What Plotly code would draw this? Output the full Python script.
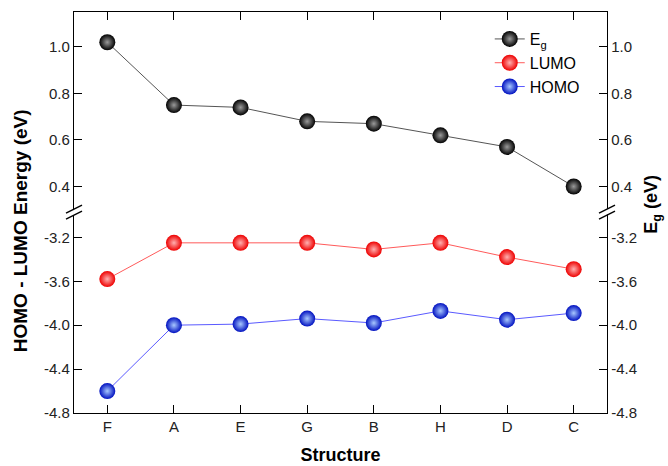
import plotly.graph_objects as go

structures = ["F", "A", "E", "G", "B", "H", "D", "C"]
eg = [1.02, 0.75, 0.74, 0.68, 0.67, 0.62, 0.57, 0.40]
lumo = [-3.58, -3.25, -3.25, -3.25, -3.31, -3.25, -3.38, -3.49]
homo = [-4.60, -4.00, -3.99, -3.94, -3.98, -3.87, -3.95, -3.89]

upper_ticks = [0.4, 0.6, 0.8, 1.0]
lower_ticks = [-3.2, -3.6, -4.0, -4.4, -4.8]
upper_range = [0.29, 1.15]
lower_range = [-4.8, -2.97]

FONT = "Liberation Sans, Arial, sans-serif"

def sphere(color, light):
    return dict(size=16, color=color, line=dict(width=0),
                gradient=dict(type="radial", color=light))

fig = go.Figure()
fig.add_trace(go.Scatter(x=structures, y=eg, name="E<sub>g</sub>", mode="lines+markers",
                         xaxis="x2", yaxis="y",
                         line=dict(color="#555555", width=1),
                         marker=sphere("#000000", "#9a9a9a")))
fig.add_trace(go.Scatter(x=structures, y=lumo, name="LUMO", mode="lines+markers",
                         xaxis="x", yaxis="y2",
                         line=dict(color="#ff5a5a", width=1),
                         marker=sphere("#ee0000", "#ffb0b0")))
fig.add_trace(go.Scatter(x=structures, y=homo, name="HOMO", mode="lines+markers",
                         xaxis="x", yaxis="y2",
                         line=dict(color="#5a5aff", width=1),
                         marker=sphere("#0010c0", "#a8c8ff")))

axis_common = dict(showline=True, linecolor="black", linewidth=1.3, ticks="inside",
                   ticklen=8, tickwidth=1.3, tickcolor="black", showgrid=False,
                   zeroline=False, automargin=False,
                   tickfont=dict(family=FONT, size=15, color="#222"))

fig.update_layout(
    width=668, height=466,
    margin=dict(l=74, r=61, t=12, b=53),
    paper_bgcolor="white", plot_bgcolor="white",
    font=dict(family=FONT, color="black"),
    xaxis=dict(**axis_common, domain=[0, 1], anchor="y2", range=[-0.5, 7.5],
               type="category", categoryorder="array", categoryarray=structures,
               title=dict(text="<b>Structure</b>", font=dict(size=18, family=FONT), standoff=14)),
    xaxis2=dict(**axis_common, domain=[0, 1], anchor="y", side="top", matches="x",
                range=[-0.5, 7.5], type="category", categoryorder="array",
                categoryarray=structures, showticklabels=False),
    yaxis=dict(**axis_common, domain=[0.501, 1], anchor="x2", range=upper_range,
               tickvals=upper_ticks, ticktext=[f"{v:.1f}" for v in upper_ticks]),
    yaxis2=dict(**axis_common, domain=[0, 0.501], anchor="x", range=lower_range,
                tickvals=lower_ticks, ticktext=[f"{v:.1f}" for v in lower_ticks]),
    yaxis3=dict(**axis_common, overlaying="y", side="right", anchor="x2", range=upper_range,
                tickvals=upper_ticks, ticktext=[f"{v:.1f}" for v in upper_ticks]),
    yaxis4=dict(**axis_common, overlaying="y2", side="right", anchor="x", range=lower_range,
                tickvals=lower_ticks, ticktext=[f"{v:.1f}" for v in lower_ticks]),
    legend=dict(x=0.78, y=0.975, xanchor="left", yanchor="top", bgcolor="rgba(0,0,0,0)",
                font=dict(family=FONT, size=16), tracegroupgap=0, itemwidth=30),
    showlegend=True,
)

# invisible traces to activate right axes
fig.add_trace(go.Scatter(x=[structures[0]], y=[eg[0]], xaxis="x2", yaxis="y3",
                         mode="markers", marker=dict(opacity=0), showlegend=False, hoverinfo="skip"))
fig.add_trace(go.Scatter(x=[structures[0]], y=[lumo[0]], xaxis="x", yaxis="y4",
                         mode="markers", marker=dict(opacity=0), showlegend=False, hoverinfo="skip"))

# axis break marks
for xp in [0, 1]:
    fig.add_shape(type="line", xref="paper", yref="paper", xsizemode="pixel", ysizemode="pixel",
                  xanchor=xp, yanchor=0.501, x0=-2, x1=2, y0=-2, y1=2,
                  line=dict(color="white", width=4))
    for dy in [-3, 3]:
        fig.add_shape(type="line", xref="paper", yref="paper", xsizemode="pixel", ysizemode="pixel",
                      xanchor=xp, yanchor=0.501, x0=-8, x1=8, y0=dy - 4, y1=dy + 4,
                      line=dict(color="black", width=1.3))

fig.add_annotation(text="<b>HOMO - LUMO Energy (eV)</b>", textangle=-90, xref="paper", yref="paper",
                   x=-0.1, y=0.455, xanchor="center", yanchor="middle", showarrow=False,
                   font=dict(family=FONT, size=19))
fig.add_annotation(text="<b>E<sub>g</sub> (eV)</b>", textangle=-90, xref="paper", yref="paper",
                   x=1.085, y=0.52, xanchor="center", yanchor="middle", showarrow=False,
                   font=dict(family=FONT, size=18))

fig.write_html("out.html")
